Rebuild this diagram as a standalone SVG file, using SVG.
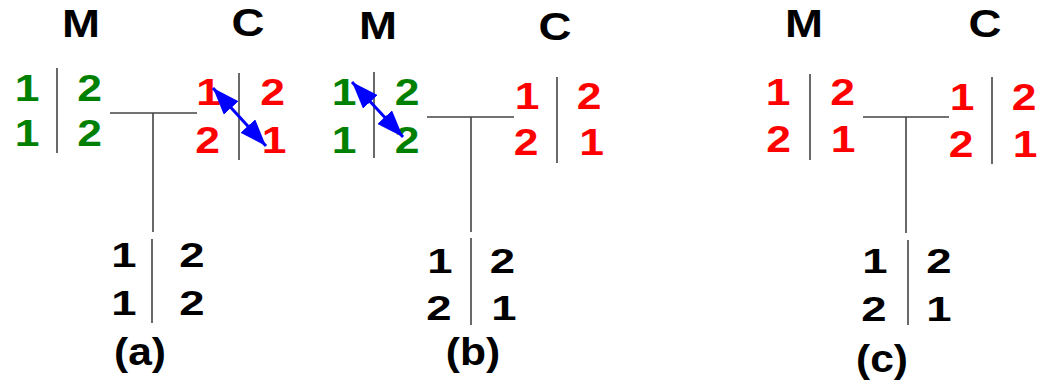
<svg xmlns="http://www.w3.org/2000/svg" width="1044" height="384" viewBox="0 0 1044 384">
<style>
text{font-family:"Liberation Sans",Arial,sans-serif;font-weight:bold;text-anchor:middle}
.h{font-size:38px;fill:#000}
.d{font-size:37px}
.b{font-size:35px;fill:#000}
.l{font-size:38px;fill:#000}
.g{fill:#008000}
.r{fill:#ff0000}
.ln{stroke:#444;stroke-width:1.6;fill:none}
.ar{stroke:#0000ff;stroke-width:3;fill:none;marker-start:url(#ah);marker-end:url(#ah)}
</style>
<defs>
<marker id="ah" markerUnits="userSpaceOnUse" markerWidth="27" markerHeight="20" refX="27" refY="10" orient="auto-start-reverse" viewBox="0 0 27 20">
<path d="M0,0 L27,10 L0,20 z" fill="#0000ff"/>
</marker>
</defs>
<g id="panel-a">
<g id="a-M">
<text class="h" transform="translate(81 37) scale(1.2 1)">M</text>
<text class="d g" transform="translate(27 101) scale(1.2 1)">1</text>
<text class="d g" transform="translate(89.5 101) scale(1.2 1)">2</text>
<text class="d g" transform="translate(27 146) scale(1.2 1)">1</text>
<text class="d g" transform="translate(89.5 146) scale(1.2 1)">2</text>
<line class="ln" x1="57" y1="68" x2="57" y2="153"/>
</g>
<g id="a-C">
<text class="h" transform="translate(248 36) scale(1.2 1)">C</text>
<text class="d r" transform="translate(208.5 105) scale(1.2 1)">1</text>
<text class="d r" transform="translate(272.5 105) scale(1.2 1)">2</text>
<text class="d r" transform="translate(207.5 153) scale(1.2 1)">2</text>
<text class="d r" transform="translate(274 153) scale(1.2 1)">1</text>
<line class="ln" x1="239" y1="73" x2="239" y2="160"/>
</g>
<g id="a-child">
<text class="b" transform="translate(124 267) scale(1.3 1)">1</text>
<text class="b" transform="translate(192 267) scale(1.3 1)">2</text>
<text class="b" transform="translate(124 315) scale(1.3 1)">1</text>
<text class="b" transform="translate(192 315) scale(1.3 1)">2</text>
<line class="ln" x1="152" y1="239" x2="152" y2="323"/>
</g>
<g id="a-label"><text class="l" transform="translate(140 365) scale(1.12 1)">(a)</text></g>
</g>
<g id="panel-b">
<g id="b-M">
<text class="h" transform="translate(378 39) scale(1.2 1)">M</text>
<text class="d g" transform="translate(344 105) scale(1.2 1)">1</text>
<text class="d g" transform="translate(407 105) scale(1.2 1)">2</text>
<text class="d g" transform="translate(344 153) scale(1.2 1)">1</text>
<text class="d g" transform="translate(407 153) scale(1.2 1)">2</text>
<line class="ln" x1="374" y1="72" x2="374" y2="158"/>
</g>
<g id="b-C">
<text class="h" transform="translate(555 40) scale(1.2 1)">C</text>
<text class="d r" transform="translate(527 109) scale(1.2 1)">1</text>
<text class="d r" transform="translate(589 109) scale(1.2 1)">2</text>
<text class="d r" transform="translate(526 155) scale(1.2 1)">2</text>
<text class="d r" transform="translate(591.5 155) scale(1.2 1)">1</text>
<line class="ln" x1="557" y1="77" x2="557" y2="163"/>
</g>
<g id="b-child">
<text class="b" transform="translate(440 273) scale(1.3 1)">1</text>
<text class="b" transform="translate(502.5 273) scale(1.3 1)">2</text>
<text class="b" transform="translate(439 320) scale(1.3 1)">2</text>
<text class="b" transform="translate(504 320) scale(1.3 1)">1</text>
<line class="ln" x1="471" y1="238" x2="471" y2="325"/>
</g>
<g id="b-label"><text class="l" transform="translate(473 365) scale(1.12 1)">(b)</text></g>
</g>
<g id="panel-c">
<g id="c-M">
<text class="h" transform="translate(804 37) scale(1.2 1)">M</text>
<text class="d r" transform="translate(778 105) scale(1.2 1)">1</text>
<text class="d r" transform="translate(842.5 105) scale(1.2 1)">2</text>
<text class="d r" transform="translate(778.5 152) scale(1.2 1)">2</text>
<text class="d r" transform="translate(843 152) scale(1.2 1)">1</text>
<line class="ln" x1="810" y1="74" x2="810" y2="160"/>
</g>
<g id="c-C">
<text class="h" transform="translate(985 37) scale(1.2 1)">C</text>
<text class="d r" transform="translate(962 110) scale(1.2 1)">1</text>
<text class="d r" transform="translate(1024 110) scale(1.2 1)">2</text>
<text class="d r" transform="translate(961 157) scale(1.2 1)">2</text>
<text class="d r" transform="translate(1025 157) scale(1.2 1)">1</text>
<line class="ln" x1="992" y1="77" x2="992" y2="164"/>
</g>
<g id="c-child">
<text class="b" transform="translate(875 273) scale(1.3 1)">1</text>
<text class="b" transform="translate(939 273) scale(1.3 1)">2</text>
<text class="b" transform="translate(874 321) scale(1.3 1)">2</text>
<text class="b" transform="translate(939 321) scale(1.3 1)">1</text>
<line class="ln" x1="908" y1="240" x2="908" y2="325"/>
</g>
<g id="c-label"><text class="l" transform="translate(882 372) scale(1.12 1)">(c)</text></g>
</g>
<g id="connectors">
<path class="ln" d="M110,113 H197 M153,113 V232"/>
<path class="ln" d="M427,117 H514 M471,117 V232"/>
<path class="ln" d="M863,117 H949 M906,117 V233"/>
<line class="ar" x1="213" y1="88" x2="266" y2="146"/>
<line class="ar" x1="352" y1="82" x2="403" y2="137"/>
</g>
</svg>
